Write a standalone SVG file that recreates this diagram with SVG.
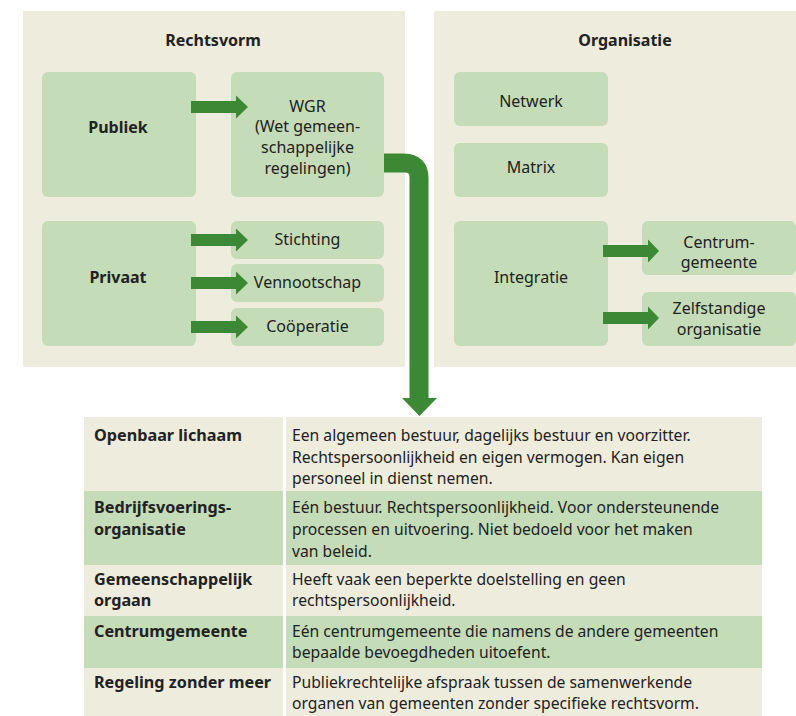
<svg xmlns="http://www.w3.org/2000/svg" width="796" height="716" viewBox="0 0 796 716">
<defs>
<style>
.panel{fill:#EEECDC}
.box{fill:#C4DCB8}
.beige{fill:#EEECDC}
.green{fill:#C4DCB8}
.arr{fill:#3B8835}
text{font-family:"Noto Sans","Open Sans",sans-serif;fill:#222222}
.h{font-size:16px;font-weight:bold;text-anchor:middle}
.b{font-size:16px;font-weight:bold;text-anchor:middle}
.n{font-size:16px;text-anchor:middle}
.tb{font-size:16.2px;font-weight:bold}
.t{font-size:15.7px}
</style>
<path id="sa" d="M0,-6 H45 V-11.5 L57,0 L45,11.5 V6 H0 Z"/>
</defs>
<rect class="panel" x="23" y="11" width="382" height="356"/>
<rect class="panel" x="434" y="11" width="382" height="356"/>
<text class="h" x="213" y="46">Rechtsvorm</text>
<text class="h" x="625" y="46">Organisatie</text>
<g id="publiek"><rect class="box" x="42" y="72" width="154" height="125" rx="6"/><text class="b" x="118" y="133">Publiek</text></g>
<g id="wgr"><rect class="box" x="231" y="72" width="153" height="125" rx="6"/><text class="n" x="307.5" y="111.5">WGR</text><text class="n" x="307.5" y="132">(Wet gemeen-</text><text class="n" x="307.5" y="153">schappelijke</text><text class="n" x="307.5" y="173.5">regelingen)</text></g>
<g id="privaat"><rect class="box" x="42" y="221" width="154" height="125" rx="6"/><text class="b" x="118" y="283">Privaat</text></g>
<g id="stichting"><rect class="box" x="231" y="221" width="153" height="38" rx="6"/><text class="n" x="307.5" y="245">Stichting</text></g>
<g id="vennootschap"><rect class="box" x="231" y="264" width="153" height="38" rx="6"/><text class="n" x="307.5" y="288">Vennootschap</text></g>
<g id="cooperatie"><rect class="box" x="231" y="308" width="153" height="38" rx="6"/><text class="n" x="307.5" y="332">Coöperatie</text></g>
<g id="netwerk"><rect class="box" x="454" y="72" width="154" height="54" rx="6"/><text class="n" x="531" y="107">Netwerk</text></g>
<g id="matrix"><rect class="box" x="454" y="143" width="154" height="54" rx="6"/><text class="n" x="531" y="173">Matrix</text></g>
<g id="integratie"><rect class="box" x="454" y="221" width="154" height="125" rx="6"/><text class="n" x="531" y="283">Integratie</text></g>
<g id="centrumgemeente"><rect class="box" x="642" y="221" width="154" height="54" rx="6"/><text class="n" x="719" y="248">Centrum-</text><text class="n" x="719" y="268">gemeente</text></g>
<g id="zelfstandige"><rect class="box" x="642" y="292" width="154" height="54" rx="6"/><text class="n" x="719" y="314">Zelfstandige</text><text class="n" x="719" y="335">organisatie</text></g>
<g id="connectors">
<use href="#sa" class="arr" x="191" y="107"/>
<use href="#sa" class="arr" x="191" y="240"/>
<use href="#sa" class="arr" x="191" y="283"/>
<use href="#sa" class="arr" x="191" y="327"/>
<path class="arr" d="M603,245 H648 V239.5 L659,251 L648,262.5 V257 H603 Z"/>
<path class="arr" d="M603,312 H648 V306.5 L659,318 L648,329.5 V324 H603 Z"/>
<path d="M384,163 H404 Q419,163 419,178 V399" fill="none" stroke="#3B8835" stroke-width="19"/>
<polygon class="arr" points="402,398 437,398 419.5,416"/>
</g>
<g id="table">
<rect class="beige" x="84" y="417" width="199" height="74"/><rect class="beige" x="286" y="417" width="476" height="74"/>
<rect class="green" x="84" y="491" width="199" height="74"/><rect class="green" x="286" y="491" width="476" height="74"/>
<rect class="beige" x="84" y="565" width="199" height="51"/><rect class="beige" x="286" y="565" width="476" height="51"/>
<rect class="green" x="84" y="616" width="199" height="52"/><rect class="green" x="286" y="616" width="476" height="52"/>
<rect class="beige" x="84" y="668" width="199" height="48"/><rect class="beige" x="286" y="668" width="476" height="48"/>
<text class="tb" x="94" y="441">Openbaar lichaam</text>
<text class="t" x="292" y="441">Een algemeen bestuur, dagelijks bestuur en voorzitter.</text>
<text class="t" x="292" y="462.5">Rechtspersoonlijkheid en eigen vermogen. Kan eigen</text>
<text class="t" x="292" y="484">personeel in dienst nemen.</text>
<text class="tb" x="94" y="513">Bedrijfsvoerings-</text>
<text class="tb" x="94" y="535">organisatie</text>
<text class="t" x="292" y="513">Eén bestuur. Rechtspersoonlijkheid. Voor ondersteunende</text>
<text class="t" x="292" y="535">processen en uitvoering. Niet bedoeld voor het maken</text>
<text class="t" x="292" y="557">van beleid.</text>
<text class="tb" x="94" y="585">Gemeenschappelijk</text>
<text class="tb" x="94" y="606">orgaan</text>
<text class="t" x="292" y="585">Heeft vaak een beperkte doelstelling en geen</text>
<text class="t" x="292" y="606">rechtspersoonlijkheid.</text>
<text class="tb" x="94" y="637">Centrumgemeente</text>
<text class="t" x="292" y="637">Eén centrumgemeente die namens de andere gemeenten</text>
<text class="t" x="292" y="658">bepaalde bevoegdheden uitoefent.</text>
<text class="tb" x="94" y="688">Regeling zonder meer</text>
<text class="t" x="292" y="688">Publiekrechtelijke afspraak tussen de samenwerkende</text>
<text class="t" x="292" y="709">organen van gemeenten zonder specifieke rechtsvorm.</text>
</g>
</svg>
